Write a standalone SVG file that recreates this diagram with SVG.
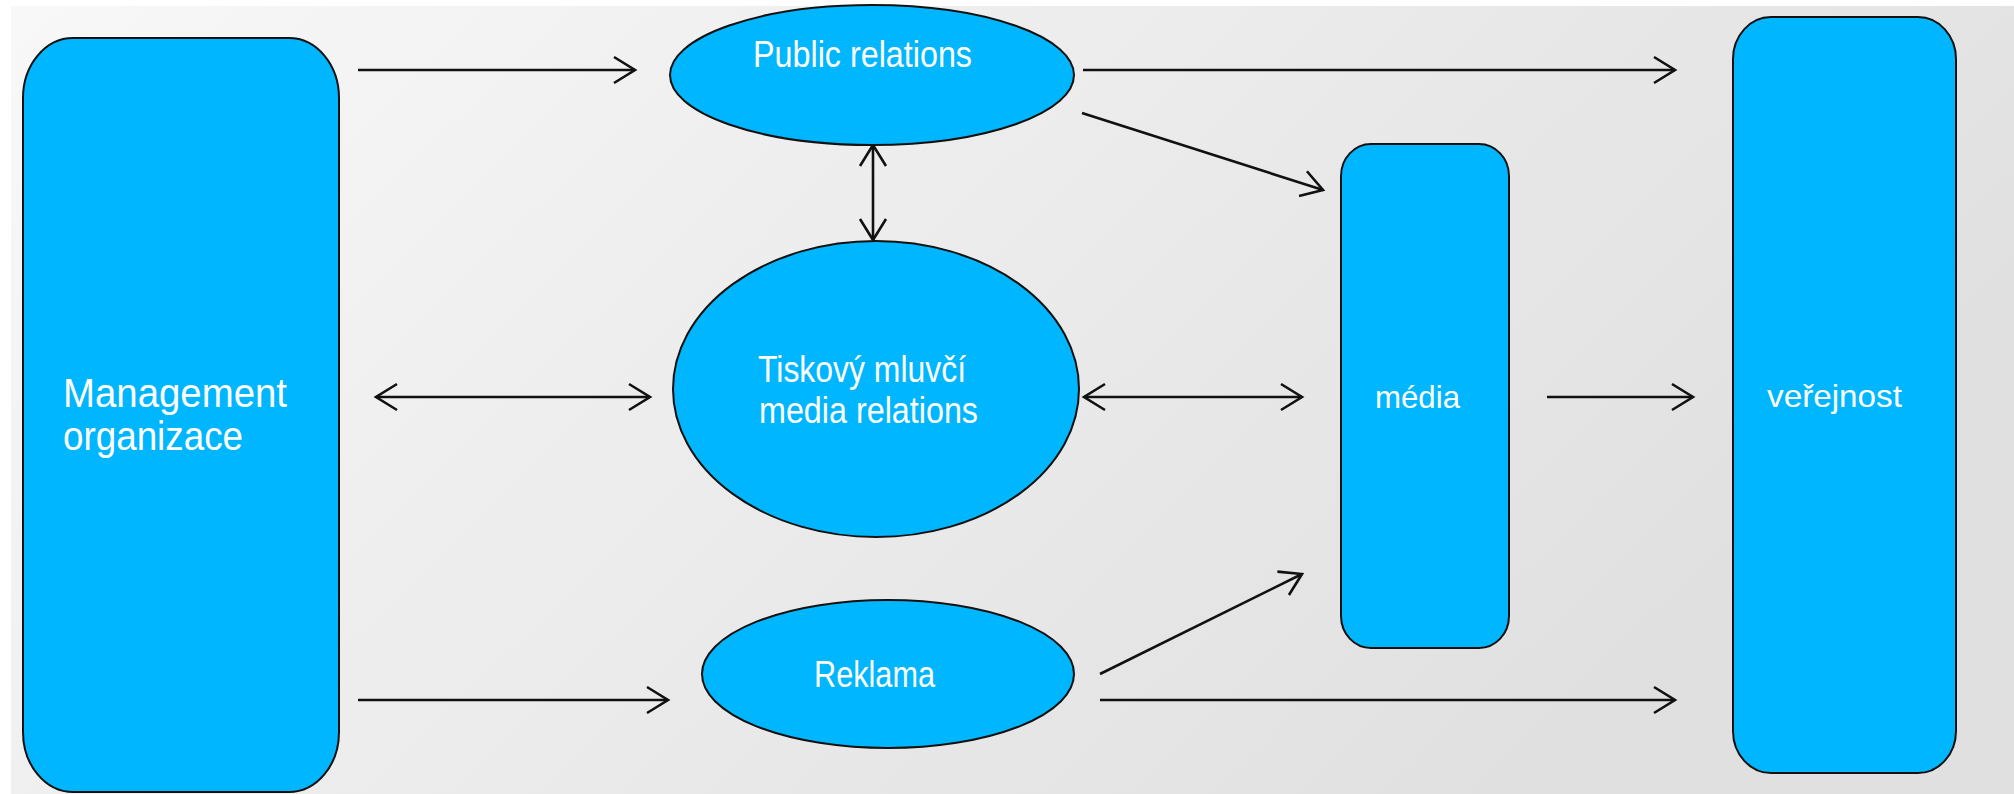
<svg xmlns="http://www.w3.org/2000/svg" width="2014" height="794" viewBox="0 0 2014 794">
  <defs>
    <linearGradient id="bg" x1="0" y1="0" x2="1" y2="0.4">
      <stop offset="0" stop-color="#f8f8f8"/>
      <stop offset="1" stop-color="#e0e0e0"/>
    </linearGradient>
    <marker id="ah" viewBox="0 0 26 30" refX="23" refY="15" markerWidth="26" markerHeight="30" markerUnits="userSpaceOnUse" orient="auto-start-reverse">
      <path d="M2,2 L23,15 L2,28" fill="none" stroke="#111" stroke-width="2.6" stroke-linejoin="miter"/>
    </marker>
  </defs>
  <style>
    .node { fill: #00B6FF; stroke: #111; stroke-width: 2; }
    .lbl { fill: #ffffff; font-family: "Liberation Sans", Arial, sans-serif; lengthAdjust: spacingAndGlyphs; }
    .conn { stroke: #111; stroke-width: 2.6; fill: none; marker-end: url(#ah); }
    .bi { marker-start: url(#ah); }
  </style>
  <rect x="0" y="0" width="2014" height="794" fill="#ffffff"/>
  <rect x="11" y="6" width="2003" height="788" fill="url(#bg)"/>

  <g id="connectors">
    <line class="conn" x1="358" y1="70" x2="635" y2="70"/>
    <line class="conn" x1="1083" y1="70" x2="1675" y2="70"/>
    <line class="conn" x1="1082" y1="113" x2="1323" y2="190"/>
    <line class="conn bi" x1="873" y1="145" x2="873" y2="240"/>
    <line class="conn bi" x1="376" y1="397" x2="650" y2="397"/>
    <line class="conn bi" x1="1084" y1="397" x2="1302" y2="397"/>
    <line class="conn" x1="1547" y1="397" x2="1693" y2="397"/>
    <line class="conn" x1="358" y1="700" x2="668" y2="700"/>
    <line class="conn" x1="1100" y1="674" x2="1302" y2="574"/>
    <line class="conn" x1="1100" y1="700" x2="1675" y2="700"/>
  </g>

  <g id="management">
    <rect class="node" x="23" y="38" width="316" height="754" rx="50" ry="60"/>
    <text class="lbl" x="63" y="407" font-size="41" textLength="224" lengthAdjust="spacingAndGlyphs">Management</text>
    <text class="lbl" x="63" y="450" font-size="41" textLength="180" lengthAdjust="spacingAndGlyphs">organizace</text>
  </g>

  <g id="public-relations">
    <ellipse class="node" cx="872" cy="75" rx="202" ry="70"/>
    <text class="lbl" x="753" y="67" font-size="36" textLength="219" lengthAdjust="spacingAndGlyphs">Public relations</text>
  </g>

  <g id="tiskovy-mluvci">
    <ellipse class="node" cx="876" cy="389" rx="203" ry="148"/>
    <text class="lbl" x="758" y="382" font-size="36" textLength="208" lengthAdjust="spacingAndGlyphs">Tiskový mluvčí</text>
    <text class="lbl" x="759" y="423" font-size="36" textLength="219" lengthAdjust="spacingAndGlyphs">media relations</text>
  </g>

  <g id="reklama">
    <ellipse class="node" cx="888" cy="674" rx="186" ry="74"/>
    <text class="lbl" x="814" y="687" font-size="36" textLength="121" lengthAdjust="spacingAndGlyphs">Reklama</text>
  </g>

  <g id="media">
    <rect class="node" x="1341" y="144" width="168" height="504" rx="30" ry="32"/>
    <text class="lbl" x="1375" y="408" font-size="32" textLength="85" lengthAdjust="spacingAndGlyphs">média</text>
  </g>

  <g id="verejnost">
    <rect class="node" x="1733" y="17" width="223" height="756" rx="38" ry="42"/>
    <text class="lbl" x="1767" y="407" font-size="32" textLength="135" lengthAdjust="spacingAndGlyphs">veřejnost</text>
  </g>
</svg>
